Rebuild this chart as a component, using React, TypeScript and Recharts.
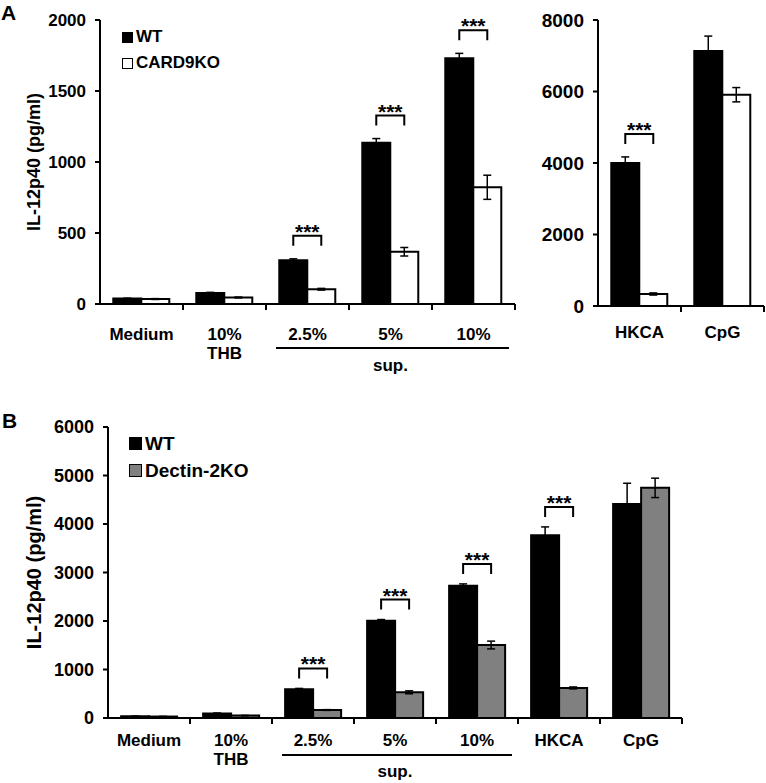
import React from 'react';
import { BarChart, Bar, XAxis, YAxis, ErrorBar, LabelList, Legend } from 'recharts';

// Panel A (left): supernatant stimulation, WT vs CARD9KO
const catsA = ['Medium', '10%\nTHB', '2.5%', '5%', '10%'];
const wtA = [38, 78, 308, 1135, 1730];
const wtErrA = [3, 4, 10, 30, 35];
const koA = [35, 46, 104, 368, 822];
const koErrA = [3, 3, 6, 30, 85];
const sigA = ['', '', '***', '***', '***'];

// Panel A (right): controls
const catsA2 = ['HKCA', 'CpG'];
const wtA2 = [4000, 7130];
const wtErrA2 = [170, 420];
const koA2 = [336, 5910];
const koErrA2 = [30, 200];
const sigA2 = ['***', ''];

// Panel B: WT vs Dectin-2KO
const catsB = ['Medium', '10%\nTHB', '2.5%', '5%', '10%', 'HKCA', 'CpG'];
const wtB = [35, 95, 595, 2005, 2725, 3770, 4410];
const wtErrB = [4, 8, 15, 25, 40, 170, 430];
const koB = [30, 50, 165, 530, 1505, 620, 4745];
const koErrB = [3, 4, 8, 30, 80, 20, 200];
const sigB = ['', '', '***', '***', '***', '***', ''];

const supGroup = ['2.5%', '5%', '10%'];
const FONT = '"Liberation Sans", Arial, sans-serif';

type Row = { cat: string; wt: number; wtErr: number; ko: number; koErr: number; sig: string };

const toRows = (cats: string[], wt: number[], wtErr: number[], ko: number[], koErr: number[], sig: string[]): Row[] =>
  cats.map((c, i) => ({ cat: c, wt: wt[i], wtErr: wtErr[i], ko: ko[i], koErr: koErr[i], sig: sig[i] }));

const rowsA = toRows(catsA, wtA, wtErrA, koA, koErrA, sigA);
const rowsA2 = toRows(catsA2, wtA2, wtErrA2, koA2, koErrA2, sigA2);
const rowsB = toRows(catsB, wtB, wtErrB, koB, koErrB, sigB);

type TickOpts = { fontSize: number; line1: number; line2: number; supLine: number; supText: number; half: number };

const makeTick = (o: TickOpts) => (props: any) => {
  const { x, y, payload } = props;
  const half = payload && payload.offset ? payload.offset : o.half;
  const value = String(payload.value);
  const lines = value.split('\n');
  const s = supGroup.indexOf(value);
  const left = x - half;
  const right = x + half;
  return (
    <g>
      <line x1={right} x2={right} y1={y} y2={y + 6} stroke="#000" strokeWidth={2} />
      {lines.map((l, i) => (
        <text key={i} x={x} y={y + (i === 0 ? o.line1 : o.line2)} textAnchor="middle"
          fontSize={o.fontSize} fontWeight="bold" fontFamily={FONT} fill="#000">{l}</text>
      ))}
      {s >= 0 && (
        <line x1={s === 0 ? left + 10 : left} x2={s === supGroup.length - 1 ? right - 6 : right}
          y1={y + o.supLine} y2={y + o.supLine} stroke="#000" strokeWidth={2} />
      )}
      {s === 1 && (
        <text x={x} y={y + o.supText} textAnchor="middle" fontSize={o.fontSize} fontWeight="bold"
          fontFamily={FONT} fill="#000">sup.</text>
      )}
    </g>
  );
};

const makeSig = (rows: Row[], gap: number) => (props: any) => {
  const vb = props.viewBox && props.viewBox.width !== undefined ? props.viewBox : props;
  const { x, y, width, height } = vb;
  const row = rows.find((r) => r.cat === props.value);
  if (!row || !row.sig) return null;
  const ppu = height / row.wt;
  const bottom = y - row.wtErr * ppu - gap;
  const top = bottom - 10;
  const x1 = x + width / 2;
  const x2 = x + width * 1.5;
  return (
    <g>
      <path d={`M${x1},${bottom}V${top}H${x2}V${bottom}`} fill="none" stroke="#000" strokeWidth={2} />
      <text x={(x1 + x2) / 2} y={top + 3} textAnchor="middle" fontSize={21} fontWeight="bold"
        fontFamily={FONT} fill="#000">{row.sig}</text>
    </g>
  );
};

type PanelProps = {
  rows: Row[];
  left: number;
  top: number;
  width: number;
  height: number;
  margin: { top: number; right: number; bottom: number; left: number };
  yWidth: number;
  xHeight: number;
  domain: [number, number];
  ticks: number[];
  yFont: number;
  yLabel?: string;
  yLabelFont?: number;
  koFill: string;
  koName: string;
  tick: TickOpts;
  gap: number;
  legend?: { left: number; top: number; fontSize: number; box: number; rowH: number };
};

const Panel = (p: PanelProps) => {
  const series = [
    { name: 'WT', fill: '#000' },
    { name: p.koName, fill: p.koFill },
  ];
  return (
    <div style={{ position: 'absolute', left: p.left, top: p.top }}>
      <BarChart width={p.width} height={p.height} data={p.rows} margin={p.margin} barGap={0} barCategoryGap="16%">
        <XAxis dataKey="cat" interval={0} tickLine={false} tickSize={0} tickMargin={0} height={p.xHeight}
          axisLine={{ stroke: '#000', strokeWidth: 2 }} tick={makeTick(p.tick)} />
        <YAxis domain={p.domain} ticks={p.ticks} width={p.yWidth} tickSize={5} tickMargin={9}
          axisLine={{ stroke: '#000', strokeWidth: 2 }} tickLine={{ stroke: '#000', strokeWidth: 2 }}
          tick={{ fill: '#000', fontSize: p.yFont, fontWeight: 'bold', fontFamily: FONT }}
          label={p.yLabel ? {
            content: (lp: any) => {
              const vb = lp.viewBox;
              return (
                <text transform={`translate(${vb.x + 34},${vb.y + vb.height / 2}) rotate(-90)`}
                  textAnchor="middle" dominantBaseline="central" fontSize={p.yLabelFont}
                  fontWeight="bold" fontFamily={FONT} fill="#000">{p.yLabel}</text>
              );
            },
          } : undefined} />
        {p.legend && (
          <Legend layout="vertical" align="center" verticalAlign="middle"
            wrapperStyle={{ left: p.legend.left, top: p.legend.top, width: 'auto' }}
            content={() => (
              <div style={{ fontFamily: FONT, fontWeight: 'bold', fontSize: p.legend!.fontSize, color: '#000' }}>
                {series.map((s) => (
                  <div key={s.name} style={{ display: 'flex', alignItems: 'center', height: p.legend!.rowH }}>
                    <span style={{ display: 'inline-block', width: p.legend!.box, height: p.legend!.box,
                      background: s.fill, border: '1.5px solid #000', boxSizing: 'border-box', marginRight: 3 }} />
                    {s.name}
                  </div>
                ))}
              </div>
            )} />
        )}
        <Bar dataKey="wt" name="WT" fill="#000" stroke="#000" strokeWidth={2} isAnimationActive={false}>
          <ErrorBar dataKey="wtErr" direction="y" width={4} stroke="#000" strokeWidth={1.5} isAnimationActive={false} />
          <LabelList dataKey="cat" content={makeSig(p.rows, p.gap)} />
        </Bar>
        <Bar dataKey="ko" name={p.koName} fill={p.koFill} stroke="#000" strokeWidth={2} isAnimationActive={false}>
          <ErrorBar dataKey="koErr" direction="y" width={4} stroke="#000" strokeWidth={1.5} isAnimationActive={false} />
        </Bar>
      </BarChart>
    </div>
  );
};

export default function App() {
  return (
    <div style={{ position: 'absolute', left: 0, top: 0, width: 766, height: 783, background: '#fff', fontFamily: FONT }}>
      <div style={{ position: 'absolute', left: 1, top: 1, fontSize: 21, fontWeight: 'bold' }}>A</div>
      <div style={{ position: 'absolute', left: 2, top: 409, fontSize: 21, fontWeight: 'bold' }}>B</div>
      <Panel rows={rowsA} left={0} top={0} width={520} height={380}
        margin={{ top: 20, right: 5, bottom: 6, left: 0 }} yWidth={100} xHeight={70}
        domain={[0, 2000]} ticks={[0, 500, 1000, 1500, 2000]} yFont={17}
        yLabel="IL-12p40 (pg/ml)" yLabelFont={18} koFill="#fff" koName="CARD9KO"
        tick={{ fontSize: 17, line1: 36, line2: 55, supLine: 44, supText: 67, half: 41.5 }} gap={13}
        legend={{ left: 122, top: 24, fontSize: 17, box: 11, rowH: 26 }} />
      <Panel rows={rowsA2} left={500} top={0} width={266} height={380}
        margin={{ top: 20, right: 2, bottom: 6, left: 0 }} yWidth={98} xHeight={68}
        domain={[0, 8000]} ticks={[0, 2000, 4000, 6000, 8000]} yFont={19}
        koFill="#fff" koName="CARD9KO"
        tick={{ fontSize: 17, line1: 32, line2: 52, supLine: 44, supText: 67, half: 41.5 }} gap={13} />
      <Panel rows={rowsB} left={0} top={400} width={700} height={380}
        margin={{ top: 27, right: 18, bottom: 2, left: 0 }} yWidth={108} xHeight={60}
        domain={[0, 6000]} ticks={[0, 1000, 2000, 3000, 4000, 5000, 6000]} yFont={18}
        yLabel="IL-12p40 (pg/ml)" yLabelFont={20} koFill="#808080" koName="Dectin-2KO"
        tick={{ fontSize: 17, line1: 28, line2: 47, supLine: 37, supText: 59, half: 41 }} gap={10}
        legend={{ left: 129, top: 30, fontSize: 19, box: 13, rowH: 27 }} />
    </div>
  );
}
